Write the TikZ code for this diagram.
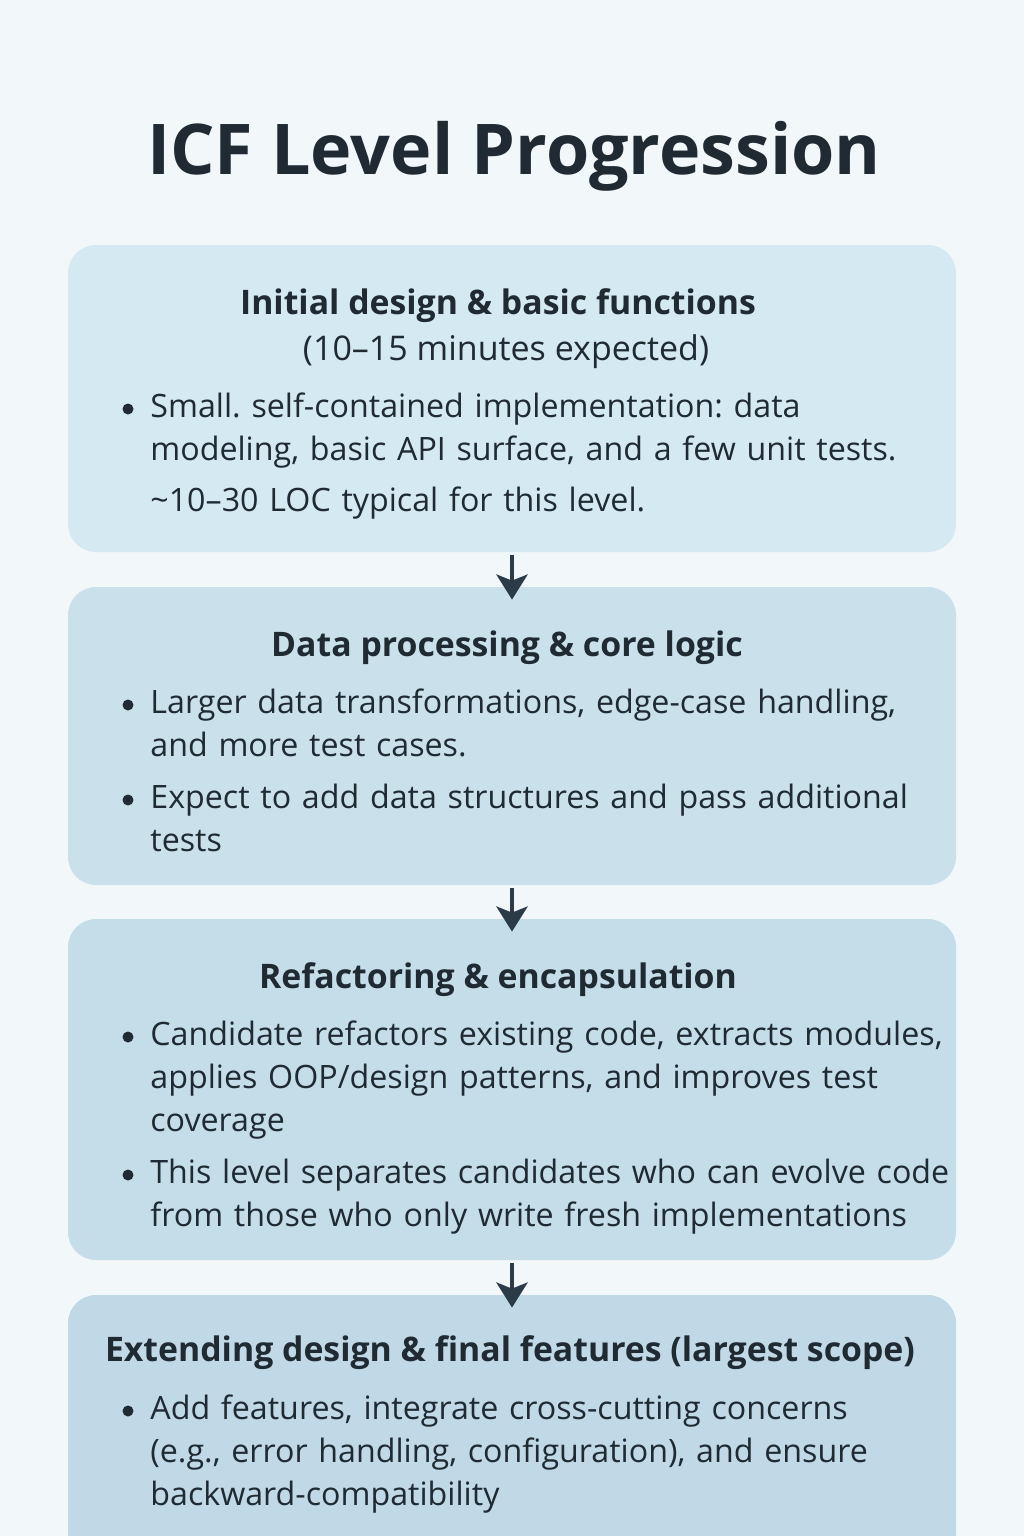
\documentclass[tikz,border=0pt]{standalone}
\usepackage{fontspec}
\setmainfont{Open Sans}
\usetikzlibrary{arrows.meta}
\definecolor{pagebg}{HTML}{F2F7FA}
\definecolor{boxa}{HTML}{D5E9F3}
\definecolor{boxb}{HTML}{CAE1EC}
\definecolor{boxc}{HTML}{C5DDE9}
\definecolor{boxd}{HTML}{C1D9E6}
\definecolor{ink}{HTML}{1F2A33}
\definecolor{arrowink}{HTML}{2B3B48}
\frenchspacing
\begin{document}
\begin{tikzpicture}[x=0.5pt,y=-0.5pt,
  every node/.style={text=ink},
  stagebox/.style={rectangle,rounded corners=14pt,minimum width=444pt,inner sep=0pt},
  stagehead/.style={anchor=base,inner sep=0pt,font=\bfseries\fontsize{16.9}{20}\selectfont},
  stagesub/.style={anchor=base,inner sep=0pt,font=\fontsize{17}{20}\selectfont},
  bullettext/.style={anchor=base west,inner sep=0pt,text width=430pt,align=left,font=\fontsize{16.1}{21.5}\selectfont},
  bulletdot/.style={circle,fill=ink,minimum size=5.5pt,inner sep=0pt},
  arr/.style={draw=arrowink,line width=2.3pt,-{Stealth[length=12.5pt,width=15.5pt,inset=3pt]},shorten <=1.5pt,shorten >=-6.5pt}]
\useasboundingbox[fill=pagebg] (0,0) rectangle (1024,1536);
\node[anchor=base,inner sep=0pt,font=\bfseries\fontsize{35}{42}\selectfont] (title) at (514,175) {ICF Level Progression};
% stage boxes
\node[stagebox,fill=boxa,minimum height=153.5pt] (b1) at (512,398.5) {};
\node[stagebox,fill=boxb,minimum height=149pt] (b2) at (512,736) {};
\node[stagebox,fill=boxc,minimum height=170.5pt] (b3) at (512,1089.5) {};
\node[stagebox,fill=boxd,minimum height=202.5pt] (b4) at (512,1497.5) {};
% level 1
\node[stagehead] (h1) at (498,314) {Initial design \& basic functions};
\node[stagesub] (s1) at (506,360) {(10–15 minutes expected)};
\node[bulletdot] (d1a) at (128,409) {};
\node[bullettext] (t1a) at (150,417) {Small. self-contained implementation: data\\modeling, basic API surface, and a few unit tests.};
\node[bullettext] (t1b) at (150,511) {\textasciitilde10–30 LOC typical for this level.};
% level 2
\node[stagehead] (h2) at (507,656) {Data processing \& core logic};
\node[bulletdot] (d2a) at (128,705) {};
\node[bullettext] (t2a) at (150,713) {Larger data transformations, edge-case handling,\\and more test cases.};
\node[bulletdot] (d2b) at (128,800) {};
\node[bullettext] (t2b) at (150,808) {Expect to add data structures and pass additional\\tests};
% level 3
\node[stagehead] (h3) at (498,988) {Refactoring \& encapsulation};
\node[bulletdot] (d3a) at (128,1037) {};
\node[bullettext] (t3a) at (150,1045) {Candidate refactors existing code, extracts modules,\\applies OOP/design patterns, and improves test\\coverage};
\node[bulletdot] (d3b) at (128,1175) {};
\node[bullettext] (t3b) at (150,1183) {This level separates candidates who can evolve code\\from those who only write fresh implementations};
% level 4
\node[stagehead] (h4) at (510,1361) {Extending design \& final features (largest scope)};
\node[bulletdot] (d4a) at (128,1411) {};
\node[bullettext] (t4a) at (150,1419) {Add features, integrate cross-cutting concerns\\(e.g., error handling, configuration), and ensure\\backward-compatibility};
% arrows
\draw[arr] (b1) -- (b2);
\draw[arr] (b2) -- (b3);
\draw[arr] (b3) -- (b4);
\end{tikzpicture}
\end{document}
